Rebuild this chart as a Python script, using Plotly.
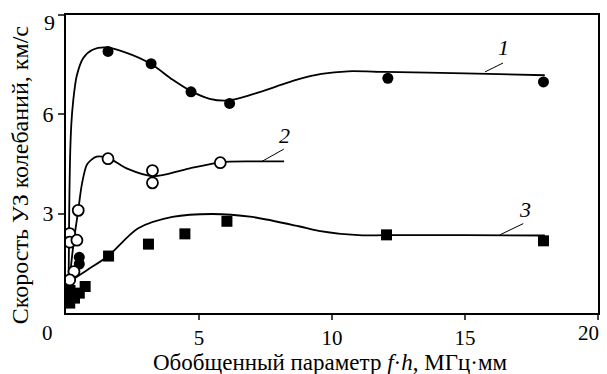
import plotly.graph_objects as go

# ---- measured points ----
s1_x = [1.58, 3.2, 4.7, 6.15, 12.1, 17.95, 0.5, 0.5]
s1_y = [7.9, 7.53, 6.68, 6.33, 7.09, 6.98, 1.68, 1.48]

s2_x = [1.58, 3.25, 3.25, 5.8, 0.46, 0.14, 0.14, 0.41, 0.3, 0.14]
s2_y = [4.66, 4.3, 3.93, 4.54, 3.1, 2.4, 2.14, 2.2, 1.25, 1.0]

s3_x = [1.6, 3.1, 4.47, 6.05, 12.05, 17.95, 0.14, 0.2, 0.32, 0.5, 0.72, 0.15]
s3_y = [1.72, 2.08, 2.39, 2.77, 2.36, 2.18, 0.3, 0.5, 0.45, 0.6, 0.8, 0.68]

# ---- fitted curves ----
c1_x = [0.1, 0.12, 0.15, 0.2, 0.27, 0.4, 0.65, 1.0, 1.5, 2.2, 3.2, 4.0, 4.7, 5.4, 6.1, 7.0, 8.75, 9.6, 10.6, 12.0, 15.0, 18.0]
c1_y = [1.1, 3.0, 4.6, 5.7, 6.4, 7.15, 7.7, 7.95, 8.02, 7.88, 7.52, 7.05, 6.7, 6.47, 6.42, 6.6, 7.06, 7.22, 7.3, 7.28, 7.24, 7.18]

c2_x = [0.13, 0.3, 0.46, 0.6, 0.8, 1.15, 1.6, 2.3, 3.3, 4.5, 5.8, 7.0, 8.2]
c2_y = [1.0, 2.2, 3.1, 3.9, 4.5, 4.72, 4.68, 4.36, 4.13, 4.34, 4.55, 4.58, 4.58]

c3_x = [0.13, 0.8, 1.6, 2.7, 4.0, 5.5, 7.0, 8.75, 9.5, 11.0, 12.0, 15.0, 18.0]
c3_y = [0.95, 1.3, 1.73, 2.55, 2.9, 2.99, 2.9, 2.62, 2.48, 2.35, 2.35, 2.35, 2.34]

# ---- curve labels ----
lab_text = ["1", "2", "3"]
lab_x = [16.45, 8.2, 17.25]
lab_y = [8.02, 5.35, 3.12]
lead_x0 = [16.43, 8.19, 17.19]
lead_y0 = [7.55, 4.95, 2.7]
lead_x1 = [15.75, 7.37, 16.31]
lead_y1 = [7.28, 4.58, 2.36]

xtick_vals = [5, 10, 15, 20]
xtick_text = ["5", "10", "15", ""]
ytick_vals = [3, 6, 9]
ytick_text = ["3", "6", ""]

FONT = "'Liberation Serif', 'Times New Roman', 'DejaVu Serif', serif"

fig = go.Figure()
line = dict(color="black", width=1.8, shape="spline", smoothing=0.8)
for cx, cy in [(c1_x, c1_y), (c2_x, c2_y), (c3_x, c3_y)]:
    fig.add_trace(go.Scatter(x=cx, y=cy, mode="lines", line=line, hoverinfo="skip"))

fig.add_trace(go.Scatter(x=s1_x, y=s1_y, mode="markers",
                         marker=dict(symbol="circle", size=11, color="black")))
fig.add_trace(go.Scatter(x=s2_x, y=s2_y, mode="markers",
                         marker=dict(symbol="circle", size=11, color="white",
                                     line=dict(color="black", width=1.8))))
fig.add_trace(go.Scatter(x=s3_x, y=s3_y, mode="markers",
                         marker=dict(symbol="square", size=11, color="black")))

for t, x, y in zip(lab_text, lab_x, lab_y):
    fig.add_annotation(x=x, y=y, text="<i>%s</i>" % t, showarrow=False,
                       font=dict(family=FONT, size=22, color="black"))
for x0, y0, x1, y1 in zip(lead_x0, lead_y0, lead_x1, lead_y1):
    fig.add_shape(type="line", x0=x0, y0=y0, x1=x1, y1=y1,
                  line=dict(color="black", width=1))

# corner tick labels and axis titles (positions in pixels, converted below)
fig.add_annotation(x=47, y=333, text="0", showarrow=False,
                   font=dict(family=FONT, size=21, color="black"))
fig.add_annotation(x=590, y=333, text="20", showarrow=False,
                   font=dict(family=FONT, size=21, color="black"))
fig.add_annotation(x=49, y=23, text="9", showarrow=False,
                   font=dict(family=FONT, size=22, color="black"))
fig.add_annotation(x=331, y=362, text="Обобщенный параметр <i>f</i>·<i>h</i>, МГц·мм",
                   showarrow=False, font=dict(family=FONT, size=23, color="black"))
fig.add_annotation(x=20, y=175, text="Скорость УЗ колебаний, км/с", textangle=-90,
                   showarrow=False, font=dict(family=FONT, size=24, color="black"))

W, H = 607, 374
L, R, T, B = 66, 7, 15, 61
pw, ph = W - L - R, H - T - B
for a in fig.layout.annotations[len(lab_text):]:
    a.xref = "paper"; a.yref = "paper"
    a.x = (a.x - L) / pw
    a.y = (H - B - a.y) / ph
    a.xanchor = "center"; a.yanchor = "middle"

fig.update_layout(
    width=W, height=H, margin=dict(l=L, r=R, t=T, b=B),
    paper_bgcolor="white", plot_bgcolor="white", showlegend=False,
    font=dict(family=FONT, size=22, color="black"),
    xaxis=dict(range=[0, 20], tickvals=xtick_vals, ticktext=xtick_text, ticks="outside",
               ticklen=5, tickwidth=1.5,
               showline=True, linewidth=2, linecolor="black", mirror=True,
               showgrid=False, zeroline=False, tickfont=dict(family=FONT, size=21)),
    yaxis=dict(range=[0, 9], tickvals=ytick_vals, ticktext=ytick_text, ticks="outside",
               ticklen=6, tickwidth=1.5,
               showline=True, linewidth=2, linecolor="black", mirror=True,
               showgrid=False, zeroline=False, tickfont=dict(family=FONT, size=22)),
)

fig.write_html("out.html")
